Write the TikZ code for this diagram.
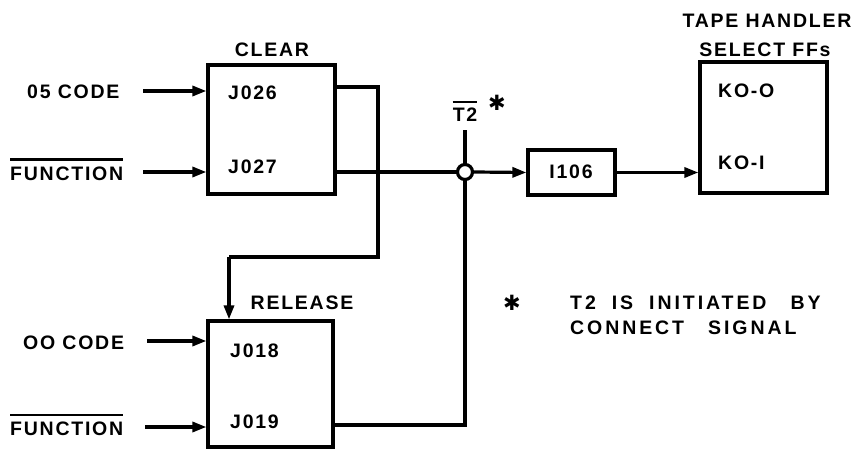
\documentclass[tikz,border=0pt]{standalone}
\usepackage{fontspec}
\setmainfont{Liberation Sans}[LetterSpace=9]
\newfontfamily\notefont{Liberation Sans}[LetterSpace=15]
\newfontfamily\symfont{DejaVu Sans}
\usetikzlibrary{arrows.meta}
\begin{document}
\begin{tikzpicture}[x=1pt,y=-1pt,
  lbl/.style={font=\bfseries\fontsize{19.5}{19.5}\selectfont, inner sep=0pt},
  note/.style={font=\notefont\bfseries\fontsize{19.5}{19.5}\selectfont, inner sep=0pt},
  box/.style={draw, line width=3.2pt, inner sep=0pt},
  wire/.style={line width=3.2pt},
  arr/.style={wire, -{Triangle[length=14pt,width=10pt]}},
  bar/.style={line width=2.8pt}]
\useasboundingbox (0,0) rectangle (864,449);
% boxes
\node[box, minimum width=127pt, minimum height=129pt] (clear) at (271.5,129.5) {};
\node[box, minimum width=125pt, minimum height=126pt] (rel) at (270.5,384) {};
\node[box, minimum width=87pt, minimum height=45pt] (ib) at (571.5,172.5) {};
\node[box, minimum width=127pt, minimum height=131pt] (ko) at (763.5,127.5) {};
% texts
\node[lbl] (tclear) at (272,50) {CLEAR};
\node[lbl] (trel) at (302,303) {RELEASE};
\node[lbl] (tth) at (767,21) {TAPE HANDLER};
\node[lbl] (tsel) at (765,50) {SELECT FFs};
\node[lbl, anchor=west] (j26) at (228,93) {J026};
\node[lbl, anchor=west] (j27) at (228,167) {J027};
\node[lbl, anchor=west] (j18) at (230,351) {J018};
\node[lbl, anchor=west] (j19) at (230,422) {J019};
\node[lbl] (i106) at (571,172) {I106};
\node[lbl, anchor=west] (k0) at (718,91) {KO-O};
\node[lbl, anchor=west] (k1) at (718,163) {KO-I};
\node[lbl, anchor=west] (c05) at (27,92) {05 CODE};
\node[lbl, anchor=west] (fn1) at (10,174) {FUNCTION};
\node[lbl, anchor=west] (c00) at (23,343) {OO CODE};
\node[lbl, anchor=west] (fn2) at (10,429) {FUNCTION};
\node[lbl] (t2) at (465,115) {T2};
\node[inner sep=0pt, font=\symfont\bfseries\fontsize{21}{21}\selectfont] (ast) at (497,103) {✱};
\node[inner sep=0pt, font=\symfont\bfseries\fontsize{21}{21}\selectfont] (ast2) at (512,303) {✱};
\node[note, anchor=west] (n1) at (570,303) {T2\hspace{16pt}IS\hspace{16pt}INITIATED\hspace{24pt}BY};
\node[note, anchor=west] (n2) at (570,328) {CONNECT\hspace{24pt}SIGNAL};
% overbars
\draw[bar] ([yshift=7pt]fn1.north west) -- ([yshift=7pt]fn1.north east);
\draw[bar] ([yshift=7pt]fn2.north west) -- ([yshift=7pt]fn2.north east);
\draw[bar] ([yshift=6pt]t2.north west) -- ([yshift=6pt]t2.north east);
% input arrows
\coordinate (a1) at (143,91);
\coordinate (a2) at (143,172);
\coordinate (a3) at (147,341);
\coordinate (a4) at (145,427);
\draw[arr] (a1) -- (a1 -| clear.west);
\draw[arr] (a2) -- (a2 -| clear.west);
\draw[arr] (a3) -- (a3 -| rel.west);
\draw[arr] (a4) -- (a4 -| rel.west);
% J026 loop to release
\coordinate (o26) at (335,87);
\coordinate (b1) at (378,87);
\coordinate (b2) at (378,257);
\coordinate (b3) at (229,257);
\draw[wire] (o26) -- (b1) -- (b2) -- (b3);
\draw[arr] (b3) -- (b3 |- rel.north);
% circle junction
\node[draw, circle, line width=3.2pt, minimum size=15pt, inner sep=0pt, fill=white] (cir) at (465,172) {};
% J027 to circle
\coordinate (o27) at (335,172);
\draw[wire] (o27) -- (cir.west);
% T2 line
\coordinate (t2b) at (465,130);
\draw[wire] (cir.north) -- (t2b);
% J019 back to circle
\coordinate (o19) at (333,425);
\coordinate (c1) at (465,425);
\draw[wire] (cir.south) -- (c1) -- (o19);
% to I106 and KO
\draw[arr] (cir.east) -- (ib.west);
\draw[arr] (ib.east) -- (ib.east -| ko.west);
\end{tikzpicture}
\end{document}
